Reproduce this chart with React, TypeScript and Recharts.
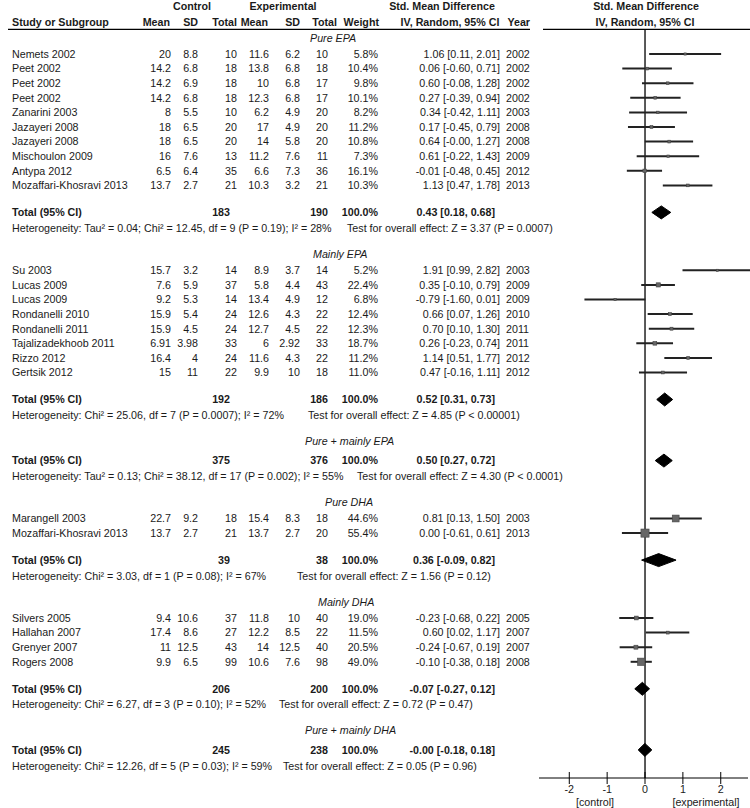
import React from 'react';
import { ComposedChart, Scatter, XAxis, YAxis, ErrorBar, ReferenceLine } from 'recharts';

const FONT = '"Liberation Sans", Arial, Helvetica, sans-serif';
const FS = 10.7;
const INK = '#1a1a1a';

// subgroups, in drawing order
const sectionLabels = ['Pure EPA', 'Mainly EPA', 'Pure + mainly EPA', 'Pure DHA', 'Mainly DHA', 'Pure + mainly DHA'];
const totalControlN = [183, 192, 375, 39, 206, 245];
const totalExpN = [190, 186, 376, 38, 200, 238];
const totalSmd = [0.43, 0.52, 0.5, 0.36, -0.07, -0.004];
const totalLo = [0.18, 0.31, 0.27, -0.09, -0.27, -0.18];
const totalHi = [0.68, 0.73, 0.72, 0.82, 0.12, 0.18];
const hetText = [
  'Heterogeneity: Tau² = 0.04; Chi² = 12.45, df = 9 (P = 0.19); I² = 28%',
  'Heterogeneity: Chi² = 25.06, df = 7 (P = 0.0007); I² = 72%',
  'Heterogeneity: Tau² = 0.13; Chi² = 38.12, df = 17 (P = 0.002); I² = 55%',
  'Heterogeneity: Chi² = 3.03, df = 1 (P = 0.08); I² = 67%',
  'Heterogeneity: Chi² = 6.27, df = 3 (P = 0.10); I² = 52%',
  'Heterogeneity: Chi² = 12.26, df = 5 (P = 0.03); I² = 59%',
];
const effectText = [
  'Test for overall effect: Z = 3.37 (P = 0.0007)',
  'Test for overall effect: Z = 4.85 (P < 0.00001)',
  'Test for overall effect: Z = 4.30 (P < 0.0001)',
  'Test for overall effect: Z = 1.56 (P = 0.12)',
  'Test for overall effect: Z = 0.72 (P = 0.47)',
  'Test for overall effect: Z = 0.05 (P = 0.96)',
];

// studies
const studyNames = [
  'Nemets 2002', 'Peet 2002', 'Peet 2002', 'Peet 2002', 'Zanarini 2003', 'Jazayeri 2008', 'Jazayeri 2008',
  'Mischoulon 2009', 'Antypa 2012', 'Mozaffari-Khosravi 2013',
  'Su 2003', 'Lucas 2009', 'Lucas 2009', 'Rondanelli 2010', 'Rondanelli 2011', 'Tajalizadekhoob 2011',
  'Rizzo 2012', 'Gertsik 2012',
  'Marangell 2003', 'Mozaffari-Khosravi 2013',
  'Silvers 2005', 'Hallahan 2007', 'Grenyer 2007', 'Rogers 2008',
];
const studySection = [0, 0, 0, 0, 0, 0, 0, 0, 0, 0, 1, 1, 1, 1, 1, 1, 1, 1, 3, 3, 4, 4, 4, 4];
const controlMean = [20, 14.2, 14.2, 14.2, 8, 18, 18, 16, 6.5, 13.7, 15.7, 7.6, 9.2, 15.9, 15.9, 6.91, 16.4, 15, 22.7, 13.7, 9.4, 17.4, 11, 9.9];
const controlSd = [8.8, 6.8, 6.9, 6.8, 5.5, 6.5, 6.5, 7.6, 6.4, 2.7, 3.2, 5.9, 5.3, 5.4, 4.5, 3.98, 4, 11, 9.2, 2.7, 10.6, 8.6, 12.5, 6.5];
const controlN = [10, 18, 18, 18, 10, 20, 20, 13, 35, 21, 14, 37, 14, 24, 24, 33, 24, 22, 18, 21, 37, 27, 43, 99];
const expMean = [11.6, 13.8, 10, 12.3, 6.2, 17, 14, 11.2, 6.6, 10.3, 8.9, 5.8, 13.4, 12.6, 12.7, 6, 11.6, 9.9, 15.4, 13.7, 11.8, 12.2, 14, 10.6];
const expSd = [6.2, 6.8, 6.8, 6.8, 4.9, 4.9, 5.8, 7.6, 7.3, 3.2, 3.7, 4.4, 4.9, 4.3, 4.5, 2.92, 4.3, 10, 8.3, 2.7, 10, 8.5, 12.5, 7.6];
const expN = [10, 18, 17, 17, 20, 20, 20, 11, 36, 21, 14, 43, 12, 22, 22, 33, 22, 18, 18, 20, 40, 22, 40, 98];
const weights = [5.8, 10.4, 9.8, 10.1, 8.2, 11.2, 10.8, 7.3, 16.1, 10.3, 5.2, 22.4, 6.8, 12.4, 12.3, 18.7, 11.2, 11.0, 44.6, 55.4, 19.0, 11.5, 20.5, 49.0];
const smd = [1.06, 0.06, 0.6, 0.27, 0.34, 0.17, 0.64, 0.61, -0.01, 1.13, 1.91, 0.35, -0.79, 0.66, 0.7, 0.26, 1.14, 0.47, 0.81, 0, -0.23, 0.6, -0.24, -0.1];
const ciLo = [0.11, -0.6, -0.08, -0.39, -0.42, -0.45, -0.004, -0.22, -0.48, 0.47, 0.99, -0.1, -1.6, 0.07, 0.1, -0.23, 0.51, -0.16, 0.13, -0.61, -0.68, 0.02, -0.67, -0.38];
const ciHi = [2.01, 0.71, 1.28, 0.94, 1.11, 0.79, 1.27, 1.43, 0.45, 1.78, 2.82, 0.79, 0.01, 1.26, 1.3, 0.74, 1.77, 1.11, 1.5, 0.61, 0.22, 1.17, 0.19, 0.18];
const years = [2002, 2002, 2002, 2002, 2003, 2008, 2008, 2009, 2012, 2013, 2003, 2009, 2009, 2010, 2011, 2011, 2012, 2012, 2003, 2013, 2005, 2007, 2007, 2008];

const xTicks = [-2, -1, 0, 1, 2];

// layout
const W = 750;
const H = 808;
const PLOT_LEFT = 539;
const AXIS_Y = 778;
const LABEL_X = [310, 313, 305, 325, 318, 305];
const EFFECT_X = [347, 308, 357, 297, 279, 283];
const COL = { name: 12, cMean: 171, cSd: 198, cN: 237, eMean: 269, eSd: 300, eN: 328, w: 378, smd: 500, year: 506 };

type Kind = 'label' | 'study' | 'total' | 'het';
type Row = { kind: Kind; sec: number; i: number; y: number };

const GAP: Record<string, number> = {
  'label-study': 16.3,
  'study-study': 14.6,
  'study-total': 27,
  'total-het': 15.8,
  'het-label': 25.8,
  'label-total': 19.5,
};

const rows: Row[] = [];
{
  let y = 37.7;
  let prev: Kind | null = null;
  const push = (kind: Kind, sec: number, i = -1) => {
    if (prev) y += GAP[prev + '-' + kind];
    rows.push({ kind, sec, i, y });
    prev = kind;
  };
  sectionLabels.forEach((_, s) => {
    push('label', s);
    studySection.forEach((sec, i) => {
      if (sec === s) push('study', s, i);
    });
    push('total', s);
    push('het', s);
  });
}
const rowByY = new Map(rows.map((r) => [r.y.toFixed(2), r]));
const rowTicks = rows.map((r) => r.y);

const studyData = rows
  .filter((r) => r.kind === 'study')
  .map((r) => ({
    x: smd[r.i],
    y: r.y,
    weight: weights[r.i],
    err: [smd[r.i] - ciLo[r.i], ciHi[r.i] - smd[r.i]],
  }));

const DIAMOND_HALF = 6.5;
const diamondData = rows
  .filter((r) => r.kind === 'total')
  .map((r) => [
    { x: totalLo[r.sec], y: r.y },
    { x: totalSmd[r.sec], y: r.y - DIAMOND_HALF },
    { x: totalHi[r.sec], y: r.y },
    { x: totalSmd[r.sec], y: r.y + DIAMOND_HALF },
    { x: totalLo[r.sec], y: r.y },
  ]);

const fmtCi = (v: number, lo: number, hi: number) => `${v.toFixed(2)} [${lo.toFixed(2)}, ${hi.toFixed(2)}]`;

function T({ x, y, children, anchor = 'start', bold = false, italic = false }: any) {
  return (
    <text
      x={x}
      y={y}
      textAnchor={anchor}
      fontFamily={FONT}
      fontSize={FS}
      fontWeight={bold ? 'bold' : 'normal'}
      fontStyle={italic ? 'italic' : 'normal'}
      fill={INK}
    >
      {children}
    </text>
  );
}

function RowTick(props: any) {
  const { y, payload } = props;
  const row = rowByY.get(Number(payload.value).toFixed(2));
  if (!row) return null;
  const by = y + 3.8;
  const i = row.i;
  if (row.kind === 'label') {
    return <T x={LABEL_X[row.sec]} y={by} italic>{sectionLabels[row.sec]}</T>;
  }
  if (row.kind === 'study') {
    return (
      <g>
        <T x={COL.name} y={by}>{studyNames[i]}</T>
        <T x={COL.cMean} y={by} anchor="end">{controlMean[i]}</T>
        <T x={COL.cSd} y={by} anchor="end">{controlSd[i]}</T>
        <T x={COL.cN} y={by} anchor="end">{controlN[i]}</T>
        <T x={COL.eMean} y={by} anchor="end">{expMean[i]}</T>
        <T x={COL.eSd} y={by} anchor="end">{expSd[i]}</T>
        <T x={COL.eN} y={by} anchor="end">{expN[i]}</T>
        <T x={COL.w} y={by} anchor="end">{weights[i].toFixed(1)}%</T>
        <T x={COL.smd} y={by} anchor="end">{fmtCi(smd[i], ciLo[i], ciHi[i])}</T>
        <T x={COL.year} y={by}>{years[i]}</T>
      </g>
    );
  }
  if (row.kind === 'total') {
    const s = row.sec;
    return (
      <g>
        <T x={COL.name} y={by} bold>Total (95% CI)</T>
        <T x={230} y={by} anchor="end" bold>{totalControlN[s]}</T>
        <T x={COL.eN} y={by} anchor="end" bold>{totalExpN[s]}</T>
        <T x={COL.w} y={by} anchor="end" bold>100.0%</T>
        <T x={495} y={by} anchor="end" bold>{fmtCi(totalSmd[s], totalLo[s], totalHi[s])}</T>
      </g>
    );
  }
  return (
    <g>
      <T x={COL.name} y={by}>{hetText[row.sec]}</T>
      <T x={EFFECT_X[row.sec]} y={by}>{effectText[row.sec]}</T>
    </g>
  );
}

function AxisTick(props: any) {
  const { x, payload } = props;
  return (
    <g>
      <line x1={x} x2={x} y1={AXIS_Y - 6} y2={AXIS_Y + 6} stroke="#000" strokeWidth={1} />
      <T x={x} y={AXIS_Y + 15} anchor="middle">{payload.value}</T>
    </g>
  );
}

const Square = (p: any) => {
  const s = 1.5 + p.payload.weight * 0.12;
  return <rect x={p.cx - s / 2} y={p.cy - s / 2} width={s} height={s} fill="#666" stroke="#444" strokeWidth={0.6} />;
};

function Header() {
  const y1 = 10;
  const y2 = 25.7;
  return (
    <svg width={W} height={H} style={{ position: 'absolute', left: 0, top: 0, pointerEvents: 'none' }}>
      <T x={192} y={y1} anchor="middle" bold>Control</T>
      <T x={283} y={y1} anchor="middle" bold>Experimental</T>
      <T x={442} y={y1} anchor="middle" bold>Std. Mean Difference</T>
      <T x={646} y={y1} anchor="middle" bold>Std. Mean Difference</T>
      <T x={12} y={y2} bold>Study or Subgroup</T>
      <T x={170} y={y2} anchor="end" bold>Mean</T>
      <T x={198} y={y2} anchor="end" bold>SD</T>
      <T x={237} y={y2} anchor="end" bold>Total</T>
      <T x={268} y={y2} anchor="end" bold>Mean</T>
      <T x={300} y={y2} anchor="end" bold>SD</T>
      <T x={337} y={y2} anchor="end" bold>Total</T>
      <T x={379} y={y2} anchor="end" bold>Weight</T>
      <T x={450} y={y2} anchor="middle" bold>IV, Random, 95% CI</T>
      <T x={530} y={y2} anchor="end" bold>Year</T>
      <T x={645} y={y2} anchor="middle" bold>IV, Random, 95% CI</T>
      <line x1={8} x2={530} y1={29.3} y2={29.3} stroke="#000" strokeWidth={1.2} />
      <line x1={543} x2={750} y1={29.3} y2={29.3} stroke="#000" strokeWidth={1.2} />
      <T x={595} y={806} anchor="middle">[control]</T>
      <T x={706} y={806} anchor="middle">[experimental]</T>
    </svg>
  );
}

export default function App() {
  return (
    <div style={{ position: 'absolute', left: 0, top: 0, width: W, height: H, background: '#fff' }}>
      <ComposedChart width={W} height={H} margin={{ top: 0, right: 2, bottom: 0, left: 0 }}>
        <XAxis
          type="number"
          dataKey="x"
          domain={[-2.8, 2.72]}
          allowDataOverflow
          ticks={xTicks}
          interval={0}
          height={H - AXIS_Y}
          axisLine={{ stroke: '#000', strokeWidth: 1 }}
          tickLine={false}
          tickSize={0}
          tick={<AxisTick />}
        />
        <YAxis
          type="number"
          dataKey="y"
          domain={[0, AXIS_Y]}
          reversed
          allowDataOverflow
          ticks={rowTicks}
          interval={0}
          width={PLOT_LEFT}
          axisLine={false}
          tickLine={false}
          tick={<RowTick />}
        />
        <ReferenceLine
          segment={[{ x: 0, y: 29.3 }, { x: 0, y: AXIS_Y }]}
          stroke="#000"
          strokeWidth={1.3}
          ifOverflow="visible"
        />
        <Scatter data={studyData} shape={<Square />} isAnimationActive={false}>
          <ErrorBar dataKey="err" direction="x" width={0} stroke="#222" strokeWidth={2} isAnimationActive={false} />
        </Scatter>
        {diamondData.map((d, k) => (
          <Scatter
            key={k}
            data={d}
            line={{ fill: '#000', stroke: '#000', strokeWidth: 1 }}
            shape={() => <g />}
            isAnimationActive={false}
          />
        ))}
      </ComposedChart>
      <Header />
    </div>
  );
}
